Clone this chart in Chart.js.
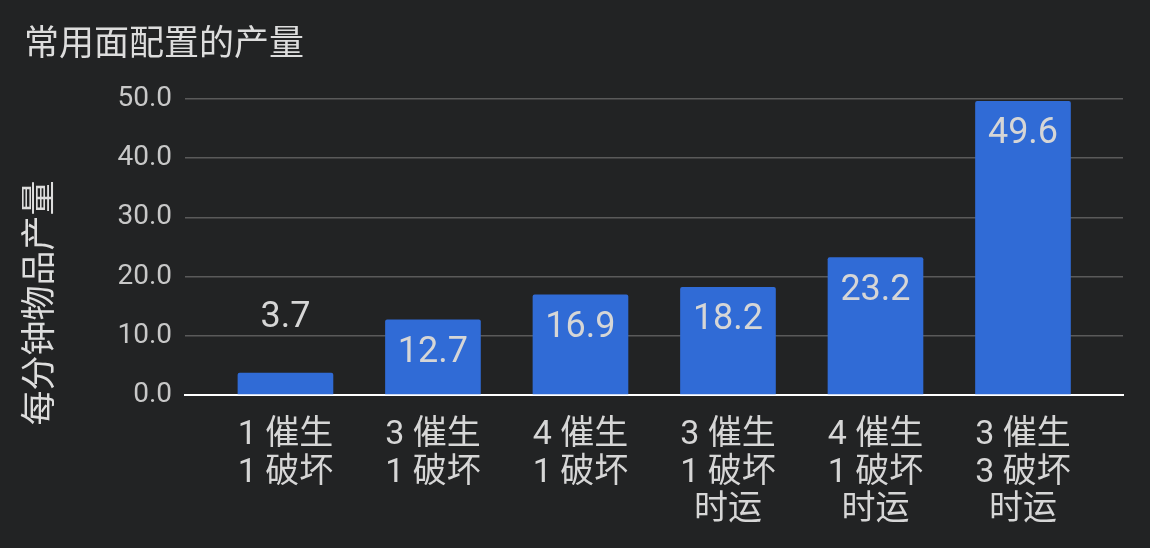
<!DOCTYPE html>
<html>
<head>
<meta charset="utf-8">
<script src="https://cdn.jsdelivr.net/npm/chart.js@4/dist/chart.umd.min.js"></script>
<style>
  html, body { margin: 0; padding: 0; background: #222324; }
  #wrap { width: 1150px; height: 548px; }
</style>
</head>
<body>
<div id="wrap"><canvas id="c" width="1150" height="548"></canvas></div>
<script>
const categories = [
    ["1 催生", "1 破坏"],
    ["3 催生", "1 破坏"],
    ["4 催生", "1 破坏"],
    ["3 催生", "1 破坏", "时运"],
    ["4 催生", "1 破坏", "时运"],
    ["3 催生", "3 破坏", "时运"],
];
const output = [3.7, 12.7, 16.9, 18.2, 23.2, 49.6];
const yTicks = [0, 10, 20, 30, 40, 50];
const yTitle = "每分钟物品产量";

const FONT = "Roboto, 'Noto Sans CJK SC', sans-serif";
const TEXT = "#d6d6d6";

// value labels inside the bars (above when the bar is too short)
const bar_labels = {
    id: "bar_labels",
    afterDatasetsDraw(chart) {
        const ctx = chart.ctx;
        const meta = chart.getDatasetMeta(0);
        ctx.save();
        ctx.font = "36px " + FONT;
        ctx.fillStyle = TEXT;
        ctx.textAlign = "center";
        ctx.textBaseline = "middle";
        meta.data.forEach((bar, i) => {
            const h = bar.base - bar.y;
            const y = h < 50 ? bar.y - 55 : bar.y + 33;
            ctx.fillText(output[i].toFixed(1), bar.x, y);
        });
        ctx.restore();
    },
};

// y axis title, centred lower than chart.js would put it
const y_title = {
    id: "y_title",
    afterDraw(chart) {
        const ctx = chart.ctx;
        const y = chart.scales.y;
        ctx.save();
        ctx.translate(42, (y.top + y.bottom) / 2 + 56);
        ctx.rotate(-Math.PI / 2);
        ctx.font = "35px " + FONT;
        ctx.fillStyle = "#dddddd";
        ctx.textAlign = "center";
        ctx.textBaseline = "middle";
        ctx.fillText(yTitle, 0, 0);
        ctx.restore();
    },
};

new Chart(document.getElementById("c").getContext("2d"), {
    type: "bar",
    data: {
        datasets: [
            {
                data: output.map((v, i) => ({ x: i, y: v })),
                backgroundColor: "#306bd6",
                barThickness: 95,
                borderRadius: { topLeft: 2, topRight: 2 },
                borderSkipped: "bottom",
            },
        ],
    },
    options: {
        responsive: false,
        animation: false,
        layout: { padding: { left: 24, right: 27, top: 0, bottom: 0 } },
        plugins: {
            legend: { display: false },
            tooltip: { enabled: false },
            title: {
                display: true,
                text: "常用面配置的产量",
                align: "start",
                color: "#dddddd",
                font: { family: FONT, size: 35, weight: "normal", lineHeight: 1.2 },
                padding: { top: 25, bottom: 32 },
            },
        },
        scales: {
            x: {
                type: "linear",
                offset: false,
                min: -0.681,
                max: 5.678,
                afterBuildTicks: (scale) => {
                    scale.ticks = categories.map((_, i) => ({ value: i }));
                },
                afterFit: (scale) => {
                    scale.height = 153;
                },
                ticks: {
                    autoSkip: false,
                    maxRotation: 0,
                    padding: 14,
                    color: TEXT,
                    font: { family: FONT, size: 34, lineHeight: 1.1 },
                    callback: (v) => categories[v],
                },
                grid: { display: false },
                border: { display: true, color: "#ffffff", width: 2 },
            },
            y: {
                min: 0,
                max: 50,
                afterBuildTicks: (scale) => {
                    scale.ticks = yTicks.map((v) => ({ value: v }));
                },
                afterFit: (scale) => {
                    scale.width = 161;
                },
                ticks: {
                    color: "#c8c8c8",
                    padding: 13,
                    font: { family: FONT, size: 28 },
                    callback: (v) => v.toFixed(1),
                },
                grid: {
                    color: (c) => (c.tick && c.tick.value === 0 ? "#ffffff" : "#5a5a5a"),
                    lineWidth: (c) => (c.tick && c.tick.value === 0 ? 2 : 1.5),
                    drawTicks: false,
                },
                border: { display: false },
            },
        },
    },
    plugins: [bar_labels, y_title],
});
</script>
</body>
</html>
